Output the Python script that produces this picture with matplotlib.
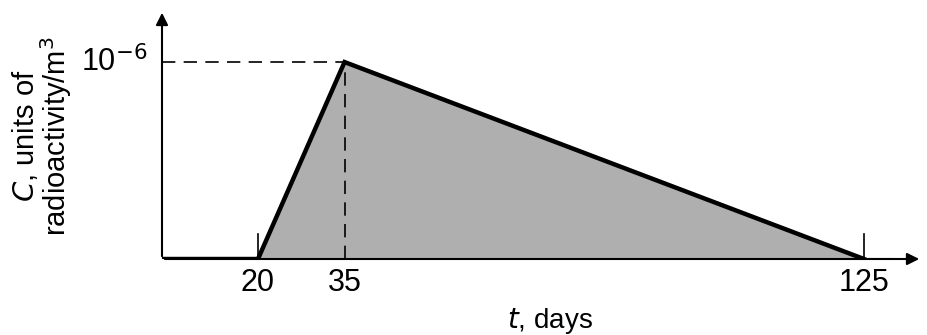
import matplotlib.pyplot as plt
import numpy as np

# data: concentration pulse (t in days, C in units of radioactivity/m^3)
t_pts = [20, 35, 125]
c_pts = [0.0, 1e-6, 0.0]
t_ticks = [20, 35, 125]
tick_labels = ['20', '35', '125']
c_peak = 1e-6

plt.rcParams['font.family'] = ['Liberation Sans', 'DejaVu Sans']

fig = plt.figure(figsize=(9.27, 3.35), dpi=100)
ax = fig.add_axes([162/927, (335-259)/335, (922-162)/927, (259-10)/335])

x0, x1 = 3.37, 135.05
ymax = c_peak/0.791
ax.set_xlim(x0, x1)
ax.set_ylim(0, ymax)
for s in ax.spines.values():
    s.set_visible(False)
ax.set_xticks([])
ax.set_yticks([])

# shaded pulse
ax.fill_between(t_pts, c_pts, 0, color='#afafaf', lw=0, zorder=1)
ax.plot(t_pts, c_pts, color='black', lw=3.2, solid_joinstyle='miter', zorder=3)

# axes with arrows
ax.annotate('', xy=(x1, 0), xytext=(x0, 0),
            arrowprops=dict(arrowstyle='-|>', color='black', lw=1.5, mutation_scale=18), zorder=4)
ax.annotate('', xy=(x0, ymax), xytext=(x0, 0),
            arrowprops=dict(arrowstyle='-|>', color='black', lw=1.5, mutation_scale=18), zorder=4)
ax.plot([x0, t_pts[0]], [0, 0], color='black', lw=3.2, solid_capstyle='butt', zorder=3)
ax.plot([t_pts[-1], 130], [0, 0], color='black', lw=2.2, solid_capstyle='butt', zorder=3)

# dashed guides
ax.plot([x0, t_pts[1]], [c_peak, c_peak], color='black', lw=1.2, dashes=(8, 5), zorder=2)
ax.plot([t_pts[1], t_pts[1]], [0, c_peak], color='black', lw=1.2, dashes=(8, 5), zorder=2)

# small tick marks
for tk in [t_ticks[0], t_ticks[2]]:
    ax.plot([tk, tk], [0, 0.1*ymax], color='black', lw=1.2, zorder=2)

for tk, lb in zip(t_ticks, tick_labels):
    ax.text(tk, -0.035*ymax, lb, ha='center', va='top', fontsize=22)

ax.text(x0 - 2.5, c_peak, r'10$^{-6}$', ha='right', va='center', fontsize=22)

fig.text(550/927, 1 - 321/335, r'$t$, days', ha='center', va='center', fontsize=20)
fig.text(25/927, 1 - 136/335, r'$C$, units of', ha='center', va='center',
         rotation=90, fontsize=21)
fig.text(56/927, 1 - 136/335, r'radioactivity/m$^3$', ha='center', va='center',
         rotation=90, fontsize=21)

fig.savefig('out.png', dpi=100)
